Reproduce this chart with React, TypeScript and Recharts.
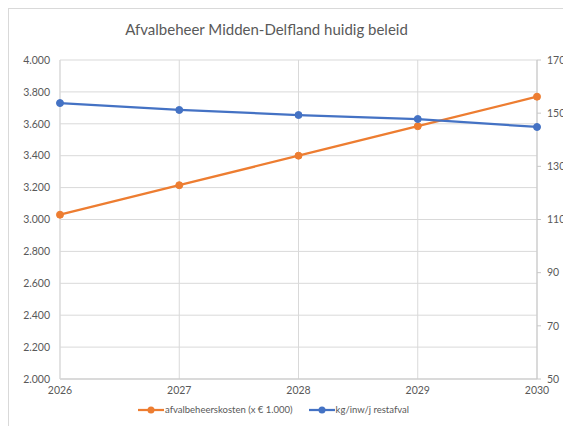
import React from 'react';
import { LineChart, Line, XAxis, YAxis, CartesianGrid, Legend } from 'recharts';

const years = ['2026', '2027', '2028', '2029', '2030'];
const kosten = [3030, 3215, 3400, 3585, 3770];
const restafval = [153.8, 151.2, 149.3, 147.8, 144.8];
const kostenTicks = [2000, 2200, 2400, 2600, 2800, 3000, 3200, 3400, 3600, 3800, 4000];
const restafvalTicks = [50, 70, 90, 110, 130, 150, 170];

const data = years.map((year, i) => ({ year, kosten: kosten[i], restafval: restafval[i] }));

const ORANGE = '#ED7D31';
const BLUE = '#4472C4';
const TEXT = '#595959';
const FONT = 'Lato, "Noto Sans", sans-serif';

const fmt = (v: number) => String(v).replace(/\B(?=(\d{3})+(?!\d))/g, '.');

const legendItems = [
  { label: 'afvalbeheerskosten (x € 1.000)', color: ORANGE },
  { label: 'kg/inw/j restafval', color: BLUE },
];

const LegendContent = () => (
  <div style={{ display: 'flex', justifyContent: 'center', gap: 16, marginLeft: -16, fontSize: 9.5, color: TEXT, fontFamily: FONT }}>
    {legendItems.map((it) => (
      <div key={it.label} style={{ display: 'flex', alignItems: 'center', gap: 1 }}>
        <svg width={26} height={10}>
          <line x1={0} y1={5} x2={26} y2={5} stroke={it.color} strokeWidth={2.25} />
          <circle cx={13} cy={5} r={3.5} fill={it.color} />
        </svg>
        <span>{it.label}</span>
      </div>
    ))}
  </div>
);

export default function App() {
  return (
    <div style={{ position: 'absolute', left: 0, top: 0, width: 563, height: 426, background: '#fff', overflow: 'hidden', fontFamily: FONT }}>
      <div style={{ position: 'absolute', left: 8, top: 8, width: 600, height: 500, border: '1px solid #d9d9d9' }} />
      <div style={{ position: 'absolute', left: 0, top: 20, width: 533, textAlign: 'center', fontSize: 15, color: TEXT }}>
        Afvalbeheer Midden-Delfland huidig beleid
      </div>
      <LineChart width={563} height={426} data={data} margin={{ top: 60, right: 0, bottom: 27, left: 0 }}>
        <CartesianGrid yAxisId="left" stroke="#d9d9d9" />
        <XAxis
          dataKey="year"
          height={20}
          tickSize={0}
          tickMargin={8}
          axisLine={{ stroke: '#c8c8c8' }}
          tick={{ fontSize: 10.5, fill: TEXT }}
        />
        <YAxis
          yAxisId="left"
          width={60}
          domain={[2000, 4000]}
          ticks={kostenTicks}
          tickFormatter={fmt}
          tickLine={false}
          tickSize={0}
          tickMargin={10}
          axisLine={{ stroke: '#d9d9d9' }}
          tick={{ fontSize: 10.5, fill: TEXT }}
        />
        <YAxis
          yAxisId="right"
          orientation="right"
          width={26}
          domain={[50, 170]}
          ticks={restafvalTicks}
          tickSize={4}
          tickMargin={6}
          tickLine={{ stroke: '#c8c8c8' }}
          axisLine={{ stroke: '#c8c8c8' }}
          tick={{ fontSize: 10.5, fill: TEXT, textAnchor: 'start' }}
        />
        <Legend
          verticalAlign="middle"
          align="center"
          layout="horizontal"
          wrapperStyle={{ top: 404, left: 0, width: 563 }}
          content={<LegendContent />}
        />
        <Line
          yAxisId="left"
          dataKey="kosten"
          stroke={ORANGE}
          strokeWidth={2.25}
          dot={{ r: 3.5, fill: ORANGE, stroke: ORANGE, strokeWidth: 1 }}
          isAnimationActive={false}
        />
        <Line
          yAxisId="right"
          dataKey="restafval"
          stroke={BLUE}
          strokeWidth={2.25}
          dot={{ r: 3.5, fill: BLUE, stroke: BLUE, strokeWidth: 1 }}
          isAnimationActive={false}
        />
      </LineChart>
    </div>
  );
}
